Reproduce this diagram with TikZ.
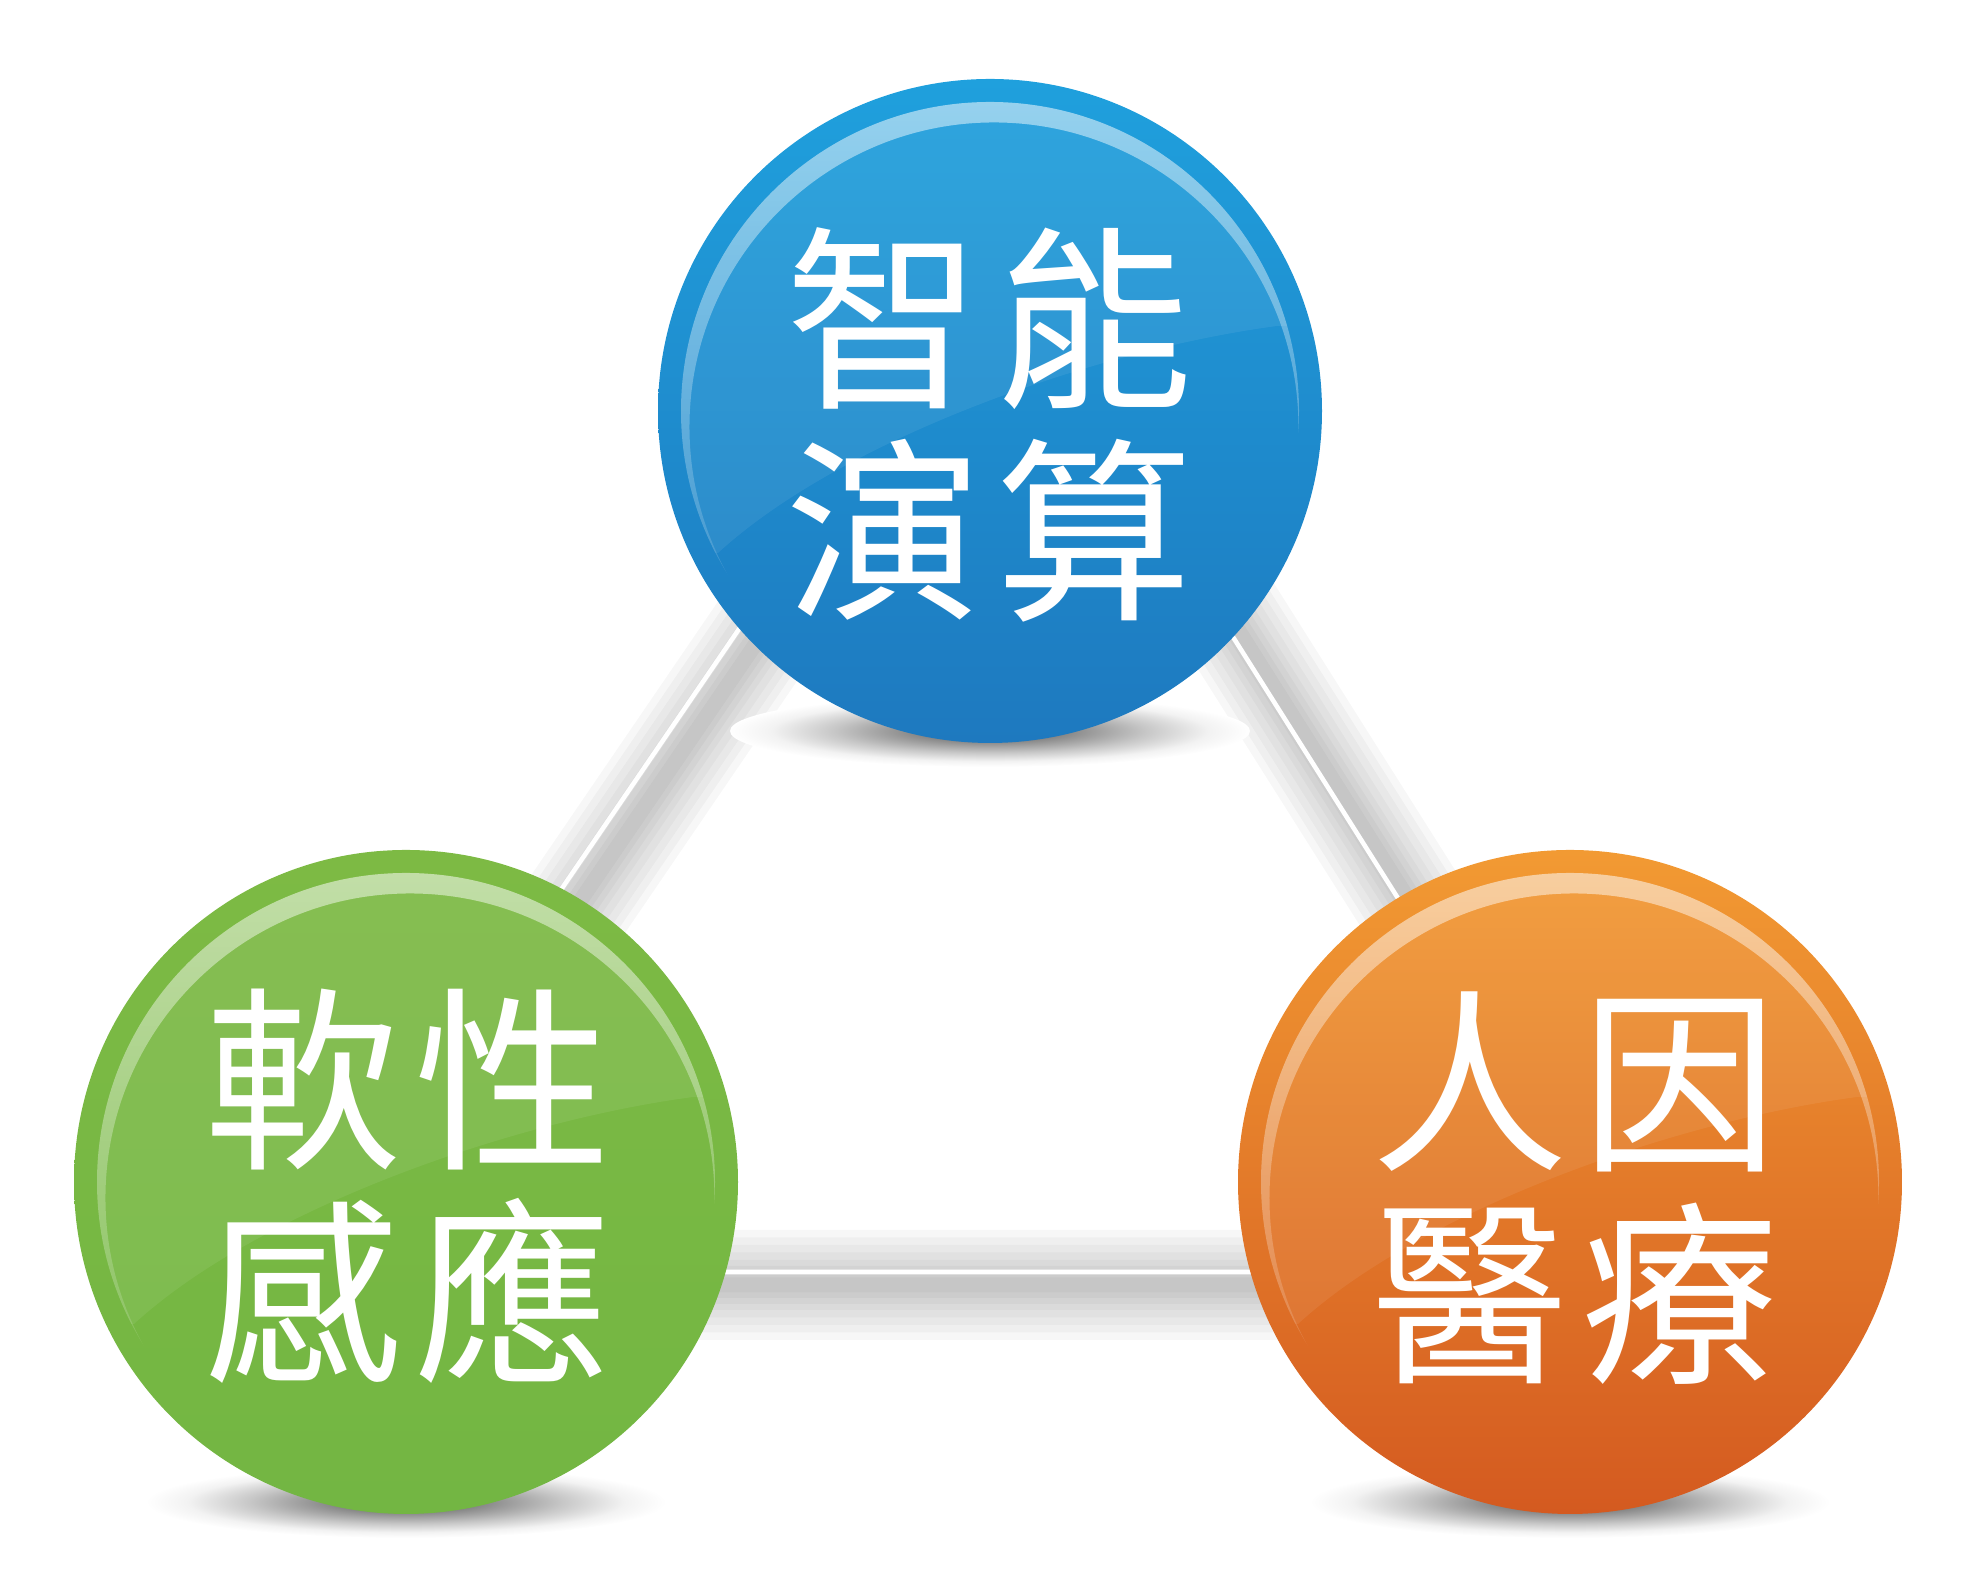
\documentclass[tikz,border=0pt]{standalone}
\usepackage{fontspec}
\newfontfamily\tcfont{Noto Sans CJK TC}
\usetikzlibrary{fadings}

\definecolor{aiTop}{HTML}{1FA0DD}
\definecolor{aiBot}{HTML}{1E79BF}
\definecolor{softTop}{HTML}{7DBA44}
\definecolor{softBot}{HTML}{73B643}
\definecolor{humanTop}{HTML}{F29A33}
\definecolor{humanBot}{HTML}{D45A20}

\pgfdeclareradialshading{ballshade}{\pgfpoint{0bp}{0bp}}{color(0bp)=(black!60); color(7bp)=(black!48); color(15bp)=(black!22); color(21bp)=(black!5); color(25bp)=(white); color(50bp)=(white)}

\begin{document}
\begin{tikzpicture}[x=1mm,y=1mm,
    label/.style = {text=white, inner sep=0pt, align=center,
      font=\tcfont\fontsize{56}{60.5}\selectfont},
    ring/.style = {fill=white, fill opacity=0.5, even odd rule, path fading=south},
    sheen/.style = {fill=white, fill opacity=0.07},
    ballshadow/.style = {shading=ballshade},
    linkshadow/.style = {black, opacity=0.03, line join=round,
      transform canvas={xshift=1.8mm, yshift=-1.3mm}},
    link/.style = {white, line width=1.3pt}]
  \useasboundingbox (0,0) rectangle (198,159.2);

  \coordinate (top) at (99.0,118.1);
  \coordinate (left) at (40.6,41.0);
  \coordinate (right) at (157.0,41.0);
  \coordinate (t) at (99.3,133.5);
  \coordinate (l) at (30.0,32.0);
  \coordinate (r) at (163.4,32.0);

  % triangle behind the balls
  \draw [linkshadow, line width=11mm] (t) -- (l) -- (r) -- cycle;
  \draw [linkshadow, line width=9.5mm] (t) -- (l) -- (r) -- cycle;
  \draw [linkshadow, line width=8mm] (t) -- (l) -- (r) -- cycle;
  \draw [linkshadow, line width=6.5mm] (t) -- (l) -- (r) -- cycle;
  \draw [linkshadow, line width=5mm] (t) -- (l) -- (r) -- cycle;
  \draw [linkshadow, line width=3.8mm] (t) -- (l) -- (r) -- cycle;
  \draw [linkshadow, line width=2.6mm] (t) -- (l) -- (r) -- cycle;
  \draw [linkshadow, line width=1.5mm] (t) -- (l) -- (r) -- cycle;
  \draw [link] (t) -- (l) -- (r) -- cycle;

  % blue ball
  \begin{scope}[shift={(top)}]
    \shade [ballshadow] (0,-32.0) ellipse (26 and 3.6);
    \shade [top color=aiTop, bottom color=aiBot] (0,0) circle (33.2);
    \begin{scope}
      \clip (0,0) circle (30.9);
      \fill [sheen] (-31,-14.2) -- (-27.2,-14.2) .. controls (-15,-3) and (10,6) .. (28.7,8.5)
        -- (31,8.5) -- (31,31) -- (-31,31) -- cycle;
      \fill [ring] (284:1.65) circle (30.45) (-31,-31) rectangle (31,31);
    \end{scope}
    \node [label] (ai) at (-0.1,-1.4) {智\hspace{4pt}能\\演\hspace{4pt}算};
  \end{scope}

  % green ball
  \begin{scope}[shift={(left)}]
    \shade [ballshadow] (0,-32.0) ellipse (26 and 3.6);
    \shade [top color=softTop, bottom color=softBot] (0,0) circle (33.2);
    \begin{scope}
      \clip (0,0) circle (30.9);
      \fill [sheen] (-31,-14.2) -- (-27.2,-14.2) .. controls (-15,-3) and (10,6) .. (28.7,8.5)
        -- (31,8.5) -- (31,31) -- (-31,31) -- cycle;
      \fill [ring] (284:1.65) circle (30.45) (-31,-31) rectangle (31,31);
    \end{scope}
    \node [label] (soft) at (0.2,-0.4) {軟\hspace{4pt}性\\感\hspace{4pt}應};
  \end{scope}

  % orange ball
  \begin{scope}[shift={(right)}]
    \shade [ballshadow] (0,-32.0) ellipse (26 and 3.6);
    \shade [top color=humanTop, bottom color=humanBot] (0,0) circle (33.2);
    \begin{scope}
      \clip (0,0) circle (30.9);
      \fill [sheen] (-31,-14.2) -- (-27.2,-14.2) .. controls (-15,-3) and (10,6) .. (28.7,8.5)
        -- (31,8.5) -- (31,31) -- (-31,31) -- cycle;
      \fill [ring] (284:1.65) circle (30.45) (-31,-31) rectangle (31,31);
    \end{scope}
    \node [label] (human) at (0.5,-0.6) {人\hspace{4pt}因\\醫\hspace{4pt}療};
  \end{scope}
\end{tikzpicture}
\end{document}
